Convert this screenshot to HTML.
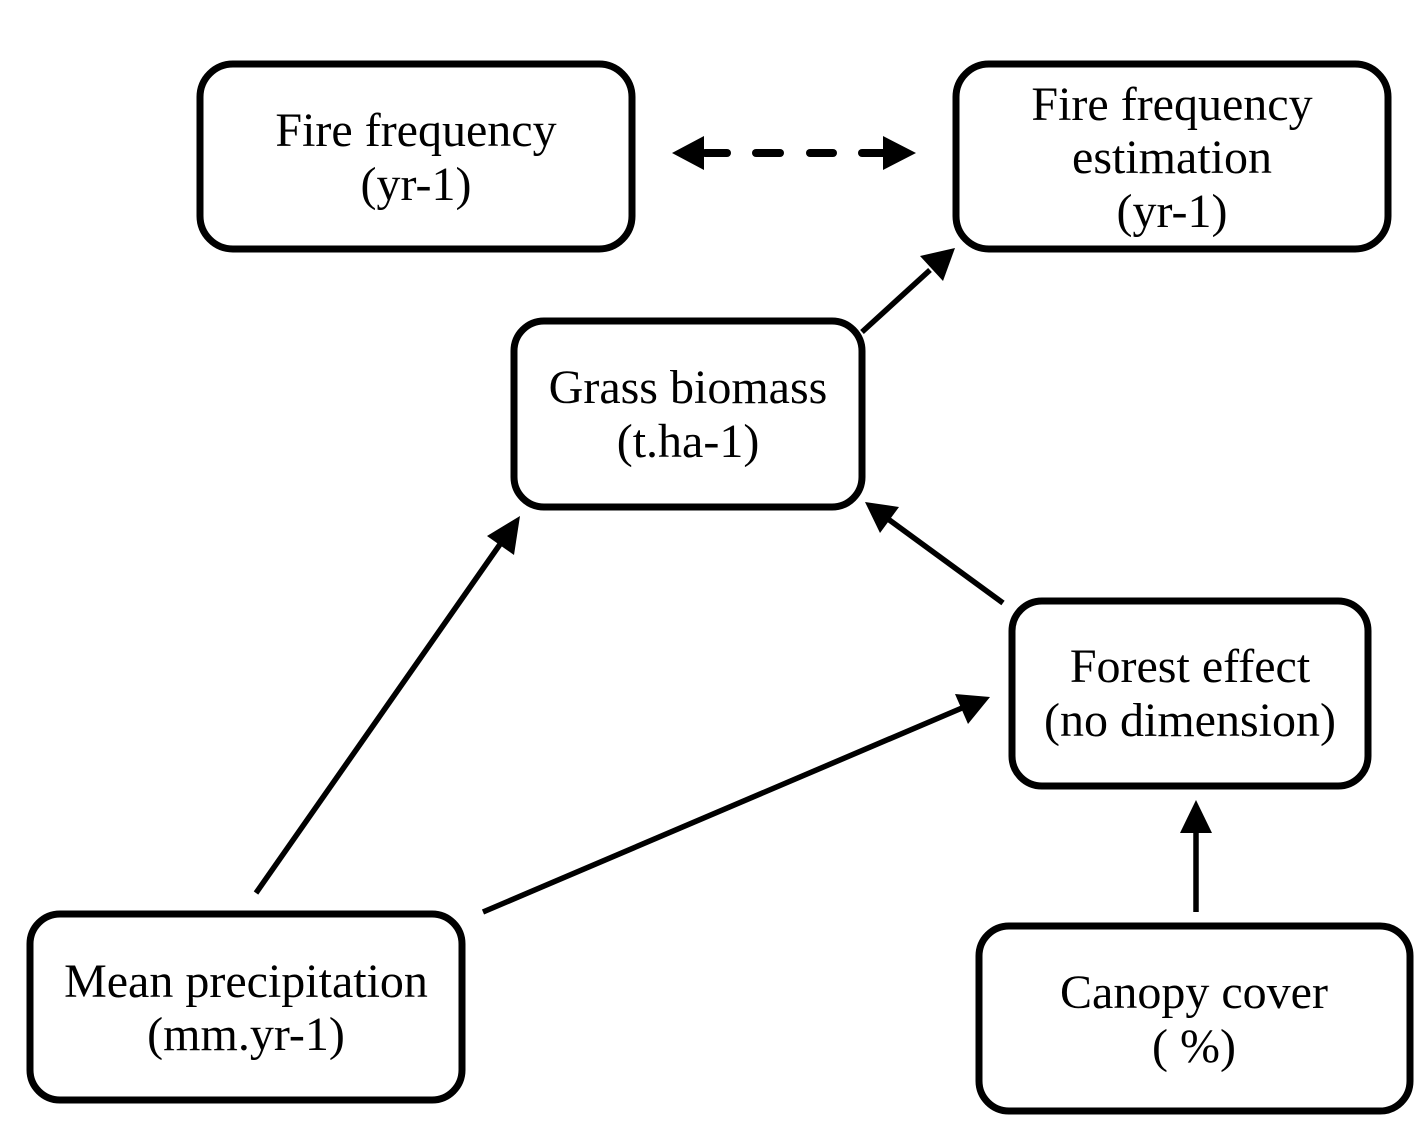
<!DOCTYPE html>
<html><head><style>body{margin:0;background:#fff}svg{display:block}</style></head><body>
<svg width="1422" height="1124" viewBox="0 0 1422 1124" xmlns="http://www.w3.org/2000/svg">
<g fill="#fff" stroke="#000" stroke-width="7">
<rect x="200" y="64" width="432" height="185" rx="33"/>
<rect x="956" y="64" width="432" height="185" rx="33"/>
<rect x="514" y="321" width="348" height="186" rx="30"/>
<rect x="1012" y="601" width="356" height="185" rx="30"/>
<rect x="30" y="914" width="432" height="186" rx="30"/>
<rect x="979" y="926" width="431" height="185" rx="30"/>
</g>
<g stroke="#000" stroke-width="8" stroke-linecap="round">
<line x1="705" y1="153" x2="727" y2="153"/>
<line x1="756" y1="153" x2="780" y2="153"/>
<line x1="810" y1="153" x2="833" y2="153"/>
<line x1="862" y1="153" x2="885" y2="153"/>
</g>
<path d="M672,153 L704,136 L704,170Z M916,153 L883,136 L883,170Z" fill="#000"/>
<g stroke="#000" stroke-width="5.5" fill="none">
<line x1="862" y1="332" x2="930" y2="270"/>
<line x1="1003" y1="603" x2="888" y2="519"/>
<line x1="256" y1="893" x2="503" y2="540"/>
<line x1="483" y1="912" x2="962" y2="708"/>
<line x1="1196" y1="912" x2="1196" y2="830"/>
</g>
<g fill="#000">
<path d="M955,248 L920,256 L943,281Z"/>
<path d="M865,502 L880,533 L899,507Z"/>
<path d="M520,516 L487,536 L514,555Z"/>
<path d="M990,697 L955,694 L968,724Z"/>
<path d="M1196,800 L1180,833 L1212,833Z"/>
</g>
<g font-family="Liberation Serif, serif" font-size="48" text-anchor="middle" fill="#000">
<text x="416" y="146">Fire frequency</text><text x="416" y="200">(yr-1)</text>
<text x="1172" y="120">Fire frequency</text><text x="1172" y="173">estimation</text><text x="1172" y="227">(yr-1)</text>
<text x="688" y="403">Grass biomass</text><text x="688" y="457">(t.ha-1)</text>
<text x="1190" y="682">Forest effect</text><text x="1190" y="736">(no dimension)</text>
<text x="246" y="997">Mean precipitation</text><text x="246" y="1050">(mm.yr-1)</text>
<text x="1194" y="1008">Canopy cover</text><text x="1194" y="1062">( %)</text>
</g>
</svg>
</body></html>
